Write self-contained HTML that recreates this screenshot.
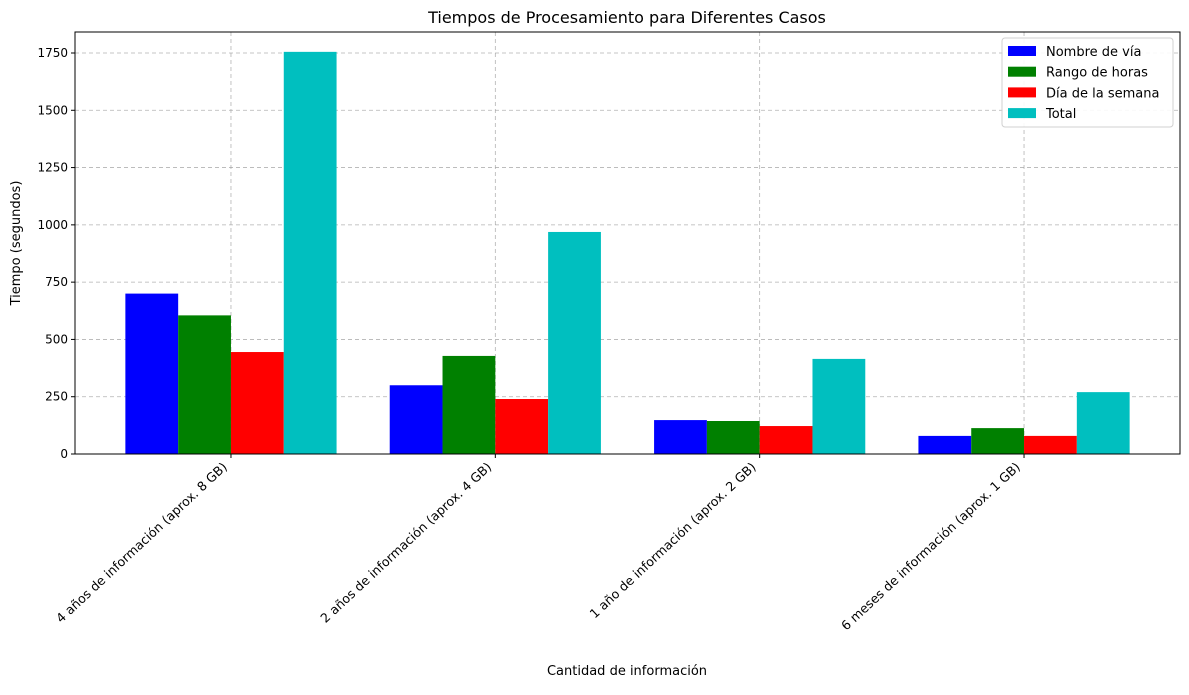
<!DOCTYPE html>
<html><head><meta charset="utf-8"><style>
body{margin:0;background:#fff;font-family:"Liberation Sans","DejaVu Sans",sans-serif;}
svg text{font-family:"DejaVu Sans","Liberation Sans",sans-serif;}
</style></head><body>
<svg id="chart" width="1189" height="690" xmlns="http://www.w3.org/2000/svg">
<text x="627" y="23" font-size="16" text-anchor="middle" fill="#000">Tiempos de Procesamiento para Diferentes Casos</text>
<g id="grid"></g><g id="bars"></g><g id="axes"></g>
<text x="627" y="675" font-size="13" text-anchor="middle">Cantidad de información</text>
<text transform="translate(20,243) rotate(-90)" font-size="13" text-anchor="middle">Tiempo (segundos)</text>
<g id="legend"></g>
</svg>
<script>
const categories=["4 años de información (aprox. 8 GB)","2 años de información (aprox. 4 GB)","1 año de información (aprox. 2 GB)","6 meses de información (aprox. 1 GB)"];
const seriesNames=["Nombre de vía","Rango de horas","Día de la semana","Total"];
const nombreVia=[700,300,148,79];
const rangoHoras=[605,428,144,113];
const diaSemana=[445,240,122,79];
const total=[1755,969,415,270];
const yTicks=[0,250,500,750,1000,1250,1500,1750];
const colors=["#0000ff","#008000","#ff0000","#00bfbf"];
const series=[nombreVia,rangoHoras,diaSemana,total];
const L=75,R=1180,T=32,B=454,ns="http://www.w3.org/2000/svg";
const xs=i=>L+(i+0.59)/4.18*(R-L);
const ys=v=>B-v/1750*(B-53);
const bw=52.8;
function mk(t,a,p){const e=document.createElementNS(ns,t);for(const k in a)e.setAttribute(k,a[k]);p.appendChild(e);return e;}
const grid=document.getElementById('grid'),bars=document.getElementById('bars'),axes=document.getElementById('axes'),leg=document.getElementById('legend');
yTicks.forEach(v=>{const y=ys(v);
const g=mk('line',{x1:L,x2:R,y1:y,y2:y,stroke:'#a0a0a0','stroke-dasharray':'4,3','stroke-width':0.8,opacity:0.8},grid);


const tk=mk('line',{x1:L-4,x2:L,y1:y,y2:y,stroke:'#000'},axes);


const t=mk('text',{x:L-7,y:y+4,'font-size':12,'text-anchor':'end'},axes);t.textContent=v;

});
categories.forEach((c,i)=>{const x=xs(i);
const g=mk('line',{x1:x,x2:x,y1:T,y2:B,stroke:'#a0a0a0','stroke-dasharray':'4,3','stroke-width':0.8,opacity:0.8},grid);


series.forEach((s,j)=>{const bx=x+(j-2)*bw;
const r=mk('rect',{x:bx,y:ys(s[i]),width:bw,height:B-ys(s[i]),fill:colors[j]},bars);

});
const tk=mk('line',{x1:x,x2:x,y1:B,y2:B+4,stroke:'#000'},axes);


const t=mk('text',{transform:`translate(${x-3},${B+14}) rotate(-43)`,'font-size':12.6,'text-anchor':'end'},axes);t.textContent=c;

});
const fr=mk('rect',{x:L,y:T,width:R-L,height:B-T,fill:'none',stroke:'#000','stroke-width':1},axes);


const lb=mk('rect',{x:1002,y:38,width:171,height:89,fill:'#fff',stroke:'#ccc',rx:3,opacity:0.9},leg);


seriesNames.forEach((n,j)=>{const y=51+j*20.7;
const s=mk('rect',{x:1008,y:y-5,width:28,height:10,fill:colors[j]},leg);


const t=mk('text',{x:1046,y:y+5,'font-size':13},leg);t.textContent=n;

});
</script>
</body></html>
